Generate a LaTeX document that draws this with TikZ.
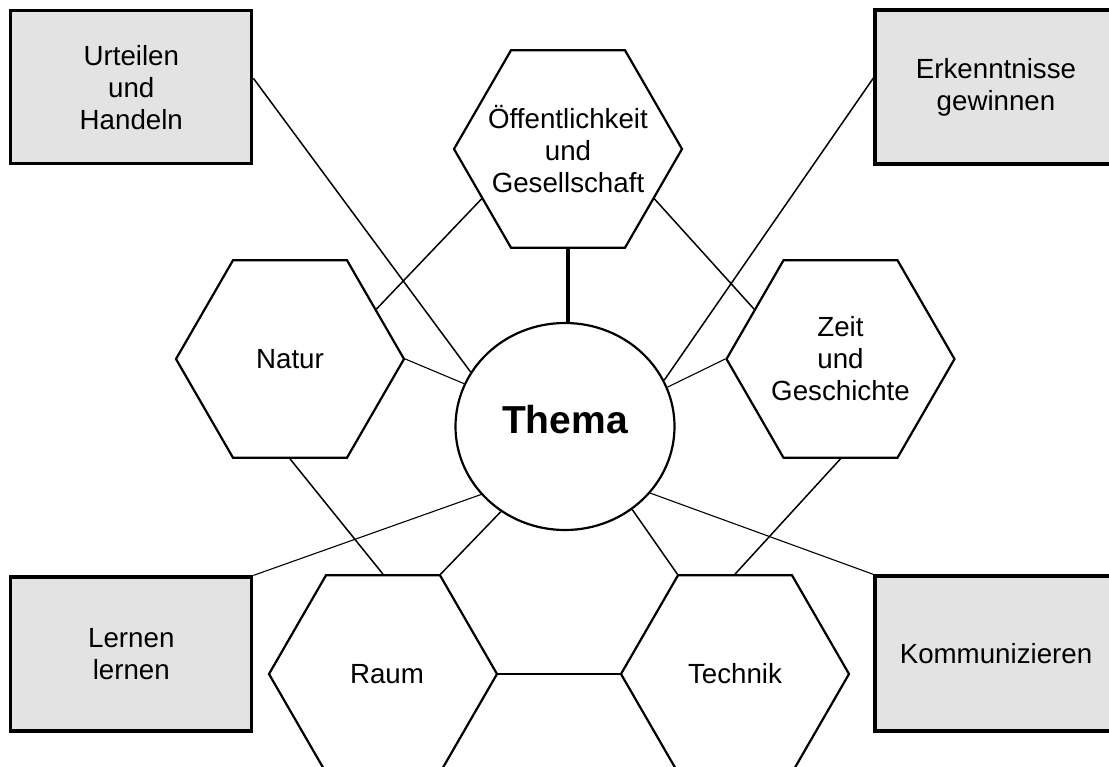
\documentclass[tikz,border=0pt]{standalone}
\usepackage{fontspec}
\setmainfont{Liberation Sans}
\usetikzlibrary{shapes.geometric,calc}
\definecolor{boxgray}{RGB}{227,227,227}
\tikzset{
  hexfield/.style={regular polygon, regular polygon sides=6, minimum size=228pt,
    inner sep=0pt, draw=black, line width=2.2pt, fill=white},
  hextext/.style={align=center, inner sep=0pt, font=\fontsize{27.7}{32}\selectfont},
  compbox/.style={rectangle, draw=black, line width=3.2pt, fill=boxgray,
    inner sep=0pt, align=center, font=\fontsize{27.7}{32}\selectfont},
  topic/.style={ellipse, draw=black, line width=2.2pt, fill=white, inner sep=0pt,
    minimum width=219pt, minimum height=207pt, text height=28pt, text depth=14pt,
    font=\fontsize{39}{44}\selectfont\bfseries},
  link/.style={draw=black, line width=1.5pt},
  thinlink/.style={draw=black, line width=1.1pt},
  stem/.style={draw=black, line width=3.2pt}
}
\begin{document}
\begin{tikzpicture}[x=1pt,y=-1pt]
\clip (0,0) rectangle (1109,767);
\fill[white] (0,0) rectangle (1109,767);

% competence boxes
\node[compbox, minimum width=241pt, minimum height=153pt] (urt) at (131.3,87.3) {Urteilen\\und\\Handeln};
\node[compbox, minimum width=242pt, minimum height=154pt] (erk) at (996,87) {Erkenntnisse\\gewinnen};
\node[compbox, minimum width=241pt, minimum height=154pt] (ler) at (131.3,654) {Lernen\\lernen};
\node[compbox, minimum width=242pt, minimum height=155pt] (kom) at (996,653.5) {Kommunizieren};

% central topic
\node[topic] (thema) at (565,426.5) {Thema};

% perspective fields: hexagon outline plus its caption
\node[hexfield] (oeff) at (568,149) {};
\node[hextext] (oefftext) at (oeff.center) {Öffentlichkeit\\und\\Gesellschaft};
\node[hexfield] (natur) at (290,359) {};
\node[hextext] (naturtext) at (natur.center) {Natur};
\node[hexfield] (zeit) at (840.5,359) {};
\node[hextext] (zeittext) at (zeit.center) {Zeit\\und\\Geschichte};
\node[hexfield] (raum) at (383,674) {};
\node[hextext] (raumtext) at ([xshift=4pt]raum.center) {Raum};
\node[hexfield] (tech) at (735,674) {};
\node[hextext] (techtext) at (tech.center) {Technik};

% connections between the fields
\draw[stem] (oeff.south) -- (oeff.south |- thema.north);
\draw[link] (oeff.210) -- (natur.30);
\draw[link] (oeff.330) -- (zeit.150);
\draw[link] (natur.south) -- (raum.north);
\draw[link] (zeit.south) -- (tech.north);
\draw[link] (raum.0) -- (tech.180);
\draw[link] (thema.233) -- (raum.60);
\draw[link] (thema.309.5) -- (tech.120);
\draw[thinlink] (natur.0) -- (thema.157);
\draw[thinlink] (zeit.180) -- (thema.21);

% connections to the competence boxes
\draw[link] ([yshift=9pt]urt.east) -- (thema.150.5);
\draw[link] ([yshift=9pt]erk.west) -- (thema.25);
\draw[thinlink] (ler.north east) -- (thema.219.8);
\draw[thinlink] (kom.north west) -- (thema.322);
\end{tikzpicture}
\end{document}
